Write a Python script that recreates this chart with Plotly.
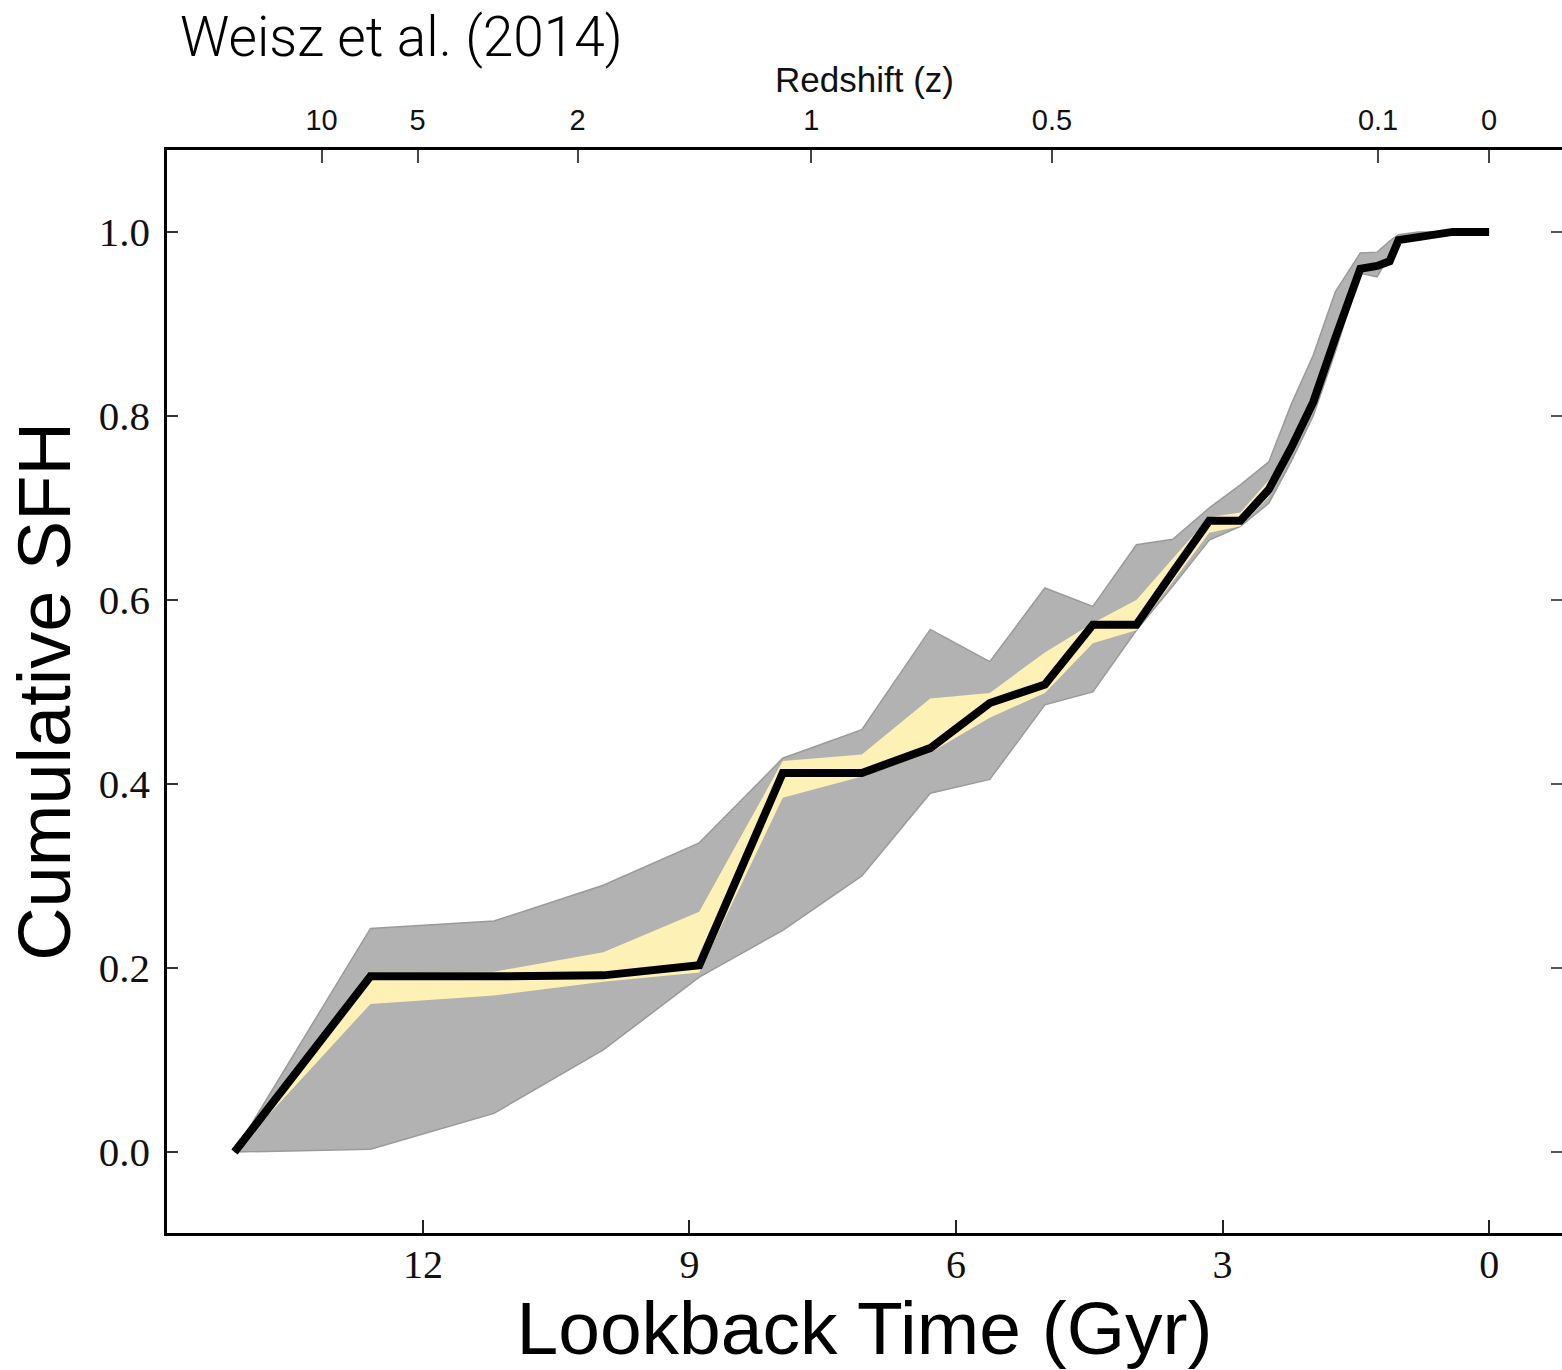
import plotly.graph_objects as go

# ---- data ----
lookback_gyr = [14.12, 12.59, 11.20, 9.97, 8.89, 7.95, 7.06, 6.29, 5.62, 5.00, 4.46, 3.97,
                3.56, 3.15, 2.80, 2.48, 2.23, 1.98, 1.73, 1.45, 1.26, 1.12, 1.02, 0.80, 0.41, 0.00]
cum_sfh_best = [0.000, 0.191, 0.191, 0.192, 0.203, 0.412, 0.412, 0.439, 0.488, 0.508, 0.573, 0.573,
                0.630, 0.686, 0.686, 0.720, 0.765, 0.815, 0.885, 0.960, 0.963, 0.968, 0.991, 0.995, 1.000, 1.000]
gray_upper = [0.000, 0.243, 0.251, 0.290, 0.336, 0.428, 0.459, 0.568, 0.533, 0.613, 0.593, 0.660,
              0.666, 0.700, 0.725, 0.750, 0.812, 0.866, 0.935, 0.977, 0.978, 0.990, 0.997, 1.000, 1.000, 1.000]
gray_lower = [0.000, 0.003, 0.042, 0.111, 0.190, 0.241, 0.300, 0.390, 0.405, 0.486, 0.500, 0.567,
              0.615, 0.665, 0.680, 0.705, 0.750, 0.800, 0.870, 0.955, 0.951, 0.975, 0.990, 0.995, 1.000, 1.000]
yellow_upper = [0.000, 0.195, 0.196, 0.217, 0.261, 0.425, 0.432, 0.493, 0.499, 0.543, 0.575, 0.600,
                0.645, 0.690, 0.695, 0.730, 0.770, 0.820, 0.890, 0.962, 0.965, 0.970, 0.992, 0.996, 1.000, 1.000]
yellow_lower = [0.000, 0.161, 0.170, 0.185, 0.195, 0.385, 0.408, 0.434, 0.472, 0.499, 0.553, 0.567,
                0.620, 0.673, 0.680, 0.712, 0.760, 0.810, 0.880, 0.955, 0.960, 0.965, 0.990, 0.995, 1.000, 1.000]

lookback_ticks = [12, 9, 6, 3, 0]
sfh_ticks = [0.0, 0.2, 0.4, 0.6, 0.8, 1.0]
sfh_tick_labels = ["0.0", "0.2", "0.4", "0.6", "0.8", "1.0"]
redshift_tick_lookback = [13.14, 12.06, 10.26, 7.63, 4.92, 1.25, 0.0]
redshift_tick_labels = ["10", "5", "2", "1", "0.5", "0.1", "0"]

x_range = [14.88, -0.82]
y_range = [-0.088, 1.089]

SANS = "Liberation Sans, Arial, sans-serif"
SERIF = "Liberation Serif, DejaVu Serif, serif"

fig = go.Figure()

# gray band
fig.add_trace(go.Scatter(x=lookback_gyr, y=gray_lower, mode="lines",
                         line=dict(color="#9a9a9a", width=1.5), hoverinfo="skip", showlegend=False))
fig.add_trace(go.Scatter(x=lookback_gyr, y=gray_upper, mode="lines", fill="tonexty",
                         fillcolor="#b2b2b2", line=dict(color="#9a9a9a", width=1.5),
                         hoverinfo="skip", showlegend=False))
# yellow band
fig.add_trace(go.Scatter(x=lookback_gyr, y=yellow_lower, mode="lines",
                         line=dict(color="rgba(0,0,0,0)", width=0), hoverinfo="skip", showlegend=False))
fig.add_trace(go.Scatter(x=lookback_gyr, y=yellow_upper, mode="lines", fill="tonexty",
                         fillcolor="#fdf1b6", line=dict(color="rgba(0,0,0,0)", width=0),
                         hoverinfo="skip", showlegend=False))
# best fit line
fig.add_trace(go.Scatter(x=lookback_gyr, y=cum_sfh_best, mode="lines",
                         line=dict(color="black", width=8), showlegend=False))

# invisible traces to activate the top/right axes
fig.add_trace(go.Scatter(x=[0], y=[0], xaxis="x2", yaxis="y", mode="markers",
                         marker=dict(opacity=0), hoverinfo="skip", showlegend=False))
fig.add_trace(go.Scatter(x=[0], y=[0], xaxis="x", yaxis="y2", mode="markers",
                         marker=dict(opacity=0), hoverinfo="skip", showlegend=False))

fig.update_layout(
    width=1562, height=1370,
    margin=dict(l=167, r=0, t=150, b=137),
    paper_bgcolor="white", plot_bgcolor="white",
    xaxis=dict(
        range=x_range, tickmode="array", tickvals=lookback_ticks,
        ticktext=[str(v) for v in lookback_ticks],
        ticks="inside", ticklen=13, tickwidth=1.5, tickcolor="#222",
        showline=True, linecolor="black", linewidth=2.5,
        showgrid=False, zeroline=False,
        tickfont=dict(family=SERIF, size=40, color="#111"),
        ticklabelstandoff=-6,
        title=dict(text="Lookback Time (Gyr)", font=dict(family=SANS, size=75, color="black"), standoff=4),
    ),
    xaxis2=dict(
        range=x_range, overlaying="x", side="top", anchor="y",
        tickmode="array", tickvals=redshift_tick_lookback, ticktext=redshift_tick_labels,
        ticks="inside", ticklen=13, tickwidth=1.5, tickcolor="#444",
        showline=True, linecolor="black", linewidth=2.5,
        showgrid=False, zeroline=False,
        tickfont=dict(family=SANS, size=29, color="#111"),
        ticklabelstandoff=6,
        title=dict(text="Redshift (z)", font=dict(family=SANS, size=35, color="#111"), standoff=1),
    ),
    yaxis=dict(
        range=y_range, tickmode="array", tickvals=sfh_ticks, ticktext=sfh_tick_labels,
        ticks="inside", ticklen=11, tickwidth=1.5, tickcolor="#333",
        showline=True, linecolor="black", linewidth=2.5,
        showgrid=False, zeroline=False,
        tickfont=dict(family=SERIF, size=41, color="#111"),
        ticklabelstandoff=6,
        title=dict(text="Cumulative SFH", font=dict(family=SANS, size=74, color="black"), standoff=4),
    ),
    yaxis2=dict(
        range=y_range, overlaying="y", side="right", anchor="x",
        tickmode="array", tickvals=sfh_ticks, showticklabels=False,
        ticks="inside", ticklen=11, tickwidth=1.5, tickcolor="#555",
        showline=False, showgrid=False, zeroline=False,
    ),
    annotations=[dict(
        text="Weisz et al. (2014)", xref="paper", yref="paper",
        x=(178 - 167) / 1395, y=(1233 - 37) / 1083, xanchor="left", yanchor="middle",
        showarrow=False, font=dict(family="Roboto, Liberation Sans, sans-serif", size=55, color="black", weight=300),
    )],
)

fig.write_html("out.html")
